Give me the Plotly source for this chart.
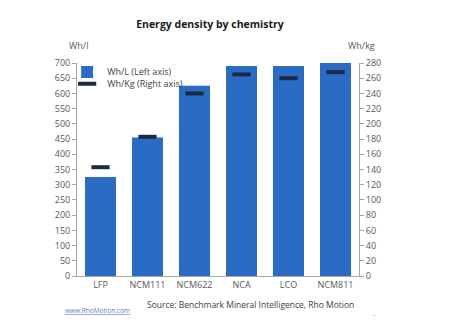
import plotly.graph_objects as go

categories = ["LFP", "NCM111", "NCM622", "NCA", "LCO", "NCM811"]
wh_per_l = [325, 455, 625, 690, 690, 700]
wh_per_kg = [143, 183, 240, 265, 260, 268]
left_ticks = list(range(0, 701, 50))
right_ticks = list(range(0, 281, 20))

FONT = "Open Sans"
TICK_COLOR = "#595959"
AXIS_COLOR = "#a6a6a6"

fig = go.Figure()
fig.add_trace(go.Bar(
    x=categories, y=wh_per_l, name="Wh/L (Left axis)",
    marker=dict(color="#2B6BC3", line=dict(width=0)),
    yaxis="y", legend="legend",
))
fig.add_trace(go.Scatter(
    x=categories, y=wh_per_kg, name="Wh/Kg (Right axis)",
    mode="markers",
    marker=dict(symbol="line-ew", size=13, color="#1c2a48",
                line=dict(width=4, color="#1c2a48")),
    yaxis="y2", legend="legend2",
))

legend_common = dict(xanchor="left", yanchor="middle", bgcolor="rgba(0,0,0,0)",
                     font=dict(size=9, color="#404040"), itemwidth=30,
                     borderwidth=0)

fig.update_layout(
    width=474, height=325,
    margin=dict(l=77, r=115, t=63, b=49),
    paper_bgcolor="white", plot_bgcolor="white",
    font=dict(family=FONT, size=9, color=TICK_COLOR),
    bargap=0.34,
    showlegend=True,
    legend=dict(x=-0.035, y=0.958, **legend_common),
    legend2=dict(x=-0.035, y=0.903, **legend_common),
    title=dict(text="<b>Energy density by chemistry</b>", x=0.443, xanchor="center",
               y=0.925, yanchor="middle",
               font=dict(family=FONT, size=10.5, color="#1a1a1a")),
    xaxis=dict(showline=True, linecolor=AXIS_COLOR, linewidth=1, ticks="",
               tickfont=dict(size=9, color=TICK_COLOR), showgrid=False),
    yaxis=dict(range=[0, 700], tickvals=left_ticks, showline=True, linecolor=AXIS_COLOR,
               linewidth=1, ticks="outside", ticklen=4, tickcolor=AXIS_COLOR,
               showgrid=False, zeroline=False, tickfont=dict(size=9, color=TICK_COLOR)),
    yaxis2=dict(range=[0, 280], tickvals=right_ticks, overlaying="y", side="right",
                showline=True, linecolor=AXIS_COLOR, linewidth=1, ticks="outside",
                ticklen=4, tickcolor=AXIS_COLOR, showgrid=False, zeroline=False,
                tickfont=dict(size=9, color=TICK_COLOR)),
)

fig.add_annotation(text="Wh/l", xref="paper", yref="paper", x=-0.035, y=1.08,
                   xanchor="left", yanchor="middle", showarrow=False,
                   font=dict(size=9, color=TICK_COLOR))
fig.add_annotation(text="Wh/kg", xref="paper", yref="paper", x=0.954, y=1.08,
                   xanchor="left", yanchor="middle", showarrow=False,
                   font=dict(size=9, color=TICK_COLOR))
fig.add_annotation(text="Source: Benchmark Mineral Intelligence, Rho Motion", xref="paper",
                   yref="paper", x=0.24, y=-0.135, xanchor="left", yanchor="middle",
                   showarrow=False, font=dict(size=8.5, color="#404040"))
fig.add_annotation(text="<u>www.RhoMotion.com</u>", xref="paper", yref="paper",
                   x=-0.05, y=-0.16, xanchor="left", yanchor="middle", showarrow=False,
                   font=dict(size=6.5, color="#5b7fb8"))
fig.add_annotation(text="–", xref="paper", yref="paper", x=1.04, y=-0.18,
                   xanchor="left", yanchor="middle", showarrow=False,
                   font=dict(size=7, color="#b0b0b0"))

fig.write_html("out.html")
